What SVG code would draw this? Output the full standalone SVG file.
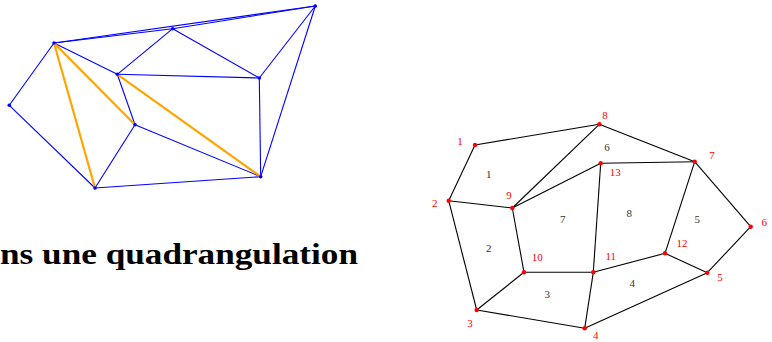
<svg xmlns="http://www.w3.org/2000/svg" width="772" height="342" viewBox="0 0 772 342">
<style>
.b{stroke:#0000ff;stroke-width:1.1;fill:none}
.o{stroke:#ffa500;stroke-width:2.2;fill:none}
.k{stroke:#000;stroke-width:1.1;fill:none}
.bd{fill:#0000ff}
.rd{fill:#ff0000}
.rl{font-family:"Liberation Serif",serif;font-size:11px;fill:#ff0000;text-anchor:middle;dominant-baseline:central}
.fl{font-family:"Liberation Serif",serif;font-size:11px;fill:#333;text-anchor:middle;dominant-baseline:central}
.t{font-family:"Liberation Serif",serif;font-weight:bold;font-size:29px;fill:#000}
</style>
<rect width="772" height="342" fill="#fff"/>
<g id="connectors">
<g id="left-edges">
<line class="b" x1="54" y1="43" x2="315.3" y2="6"/>
<line class="b" x1="54" y1="43" x2="172.7" y2="28.7"/>
<line class="b" x1="172.7" y1="28.7" x2="315.3" y2="6"/>
<line class="b" x1="54" y1="43" x2="9.3" y2="105.3"/>
<line class="b" x1="9.3" y1="105.3" x2="95" y2="188"/>
<line class="b" x1="54" y1="43" x2="117.3" y2="74.3"/>
<line class="b" x1="117.3" y1="74.3" x2="172.7" y2="28.7"/>
<line class="b" x1="172.7" y1="28.7" x2="259.3" y2="78"/>
<line class="b" x1="259.3" y1="78" x2="315.3" y2="6"/>
<line class="b" x1="117.3" y1="74.3" x2="259.3" y2="78"/>
<line class="b" x1="117.3" y1="74.3" x2="135" y2="124.7"/>
<line class="b" x1="135" y1="124.7" x2="95" y2="188"/>
<line class="b" x1="135" y1="124.7" x2="260.7" y2="176.7"/>
<line class="b" x1="260.7" y1="176.7" x2="95" y2="188"/>
<line class="b" x1="259.3" y1="78" x2="260.7" y2="176.7"/>
<line class="b" x1="315.3" y1="6" x2="260.7" y2="176.7"/>
<line class="o" x1="54" y1="43" x2="95" y2="188"/>
<line class="o" x1="54" y1="43" x2="135" y2="124.7"/>
<line class="o" x1="117.3" y1="74.3" x2="260.7" y2="176.7"/>
</g>
<g id="right-edges">
<line class="k" x1="475" y1="145" x2="599.3" y2="124.3"/>
<line class="k" x1="599.3" y1="124.3" x2="694.7" y2="161.7"/>
<line class="k" x1="694.7" y1="161.7" x2="750.7" y2="226.7"/>
<line class="k" x1="750.7" y1="226.7" x2="707.3" y2="272.7"/>
<line class="k" x1="707.3" y1="272.7" x2="584.7" y2="328.3"/>
<line class="k" x1="584.7" y1="328.3" x2="476.7" y2="310"/>
<line class="k" x1="476.7" y1="310" x2="448.7" y2="200.7"/>
<line class="k" x1="448.7" y1="200.7" x2="475" y2="145"/>
<line class="k" x1="448.7" y1="200.7" x2="512.3" y2="208"/>
<line class="k" x1="512.3" y1="208" x2="599.3" y2="124.3"/>
<line class="k" x1="512.3" y1="208" x2="600.7" y2="163.3"/>
<line class="k" x1="600.7" y1="163.3" x2="694.7" y2="161.7"/>
<line class="k" x1="512.3" y1="208" x2="524" y2="272.3"/>
<line class="k" x1="524" y1="272.3" x2="593.3" y2="272.3"/>
<line class="k" x1="593.3" y1="272.3" x2="600.7" y2="163.3"/>
<line class="k" x1="524" y1="272.3" x2="476.7" y2="310"/>
<line class="k" x1="593.3" y1="272.3" x2="584.7" y2="328.3"/>
<line class="k" x1="593.3" y1="272.3" x2="665" y2="253.3"/>
<line class="k" x1="665" y1="253.3" x2="707.3" y2="272.7"/>
<line class="k" x1="665" y1="253.3" x2="694.7" y2="161.7"/>
</g>
</g>
<g id="left-nodes">
<circle id="la" class="bd" cx="315.3" cy="6" r="1.8"/>
<circle id="lb" class="bd" cx="172.7" cy="28.7" r="1.8"/>
<circle id="lc" class="bd" cx="54" cy="43" r="1.8"/>
<circle id="ld" class="bd" cx="117.3" cy="74.3" r="1.8"/>
<circle id="le" class="bd" cx="259.3" cy="78" r="1.8"/>
<circle id="lf" class="bd" cx="9.3" cy="105.3" r="1.8"/>
<circle id="lg" class="bd" cx="135" cy="124.7" r="1.8"/>
<circle id="lh" class="bd" cx="260.7" cy="176.7" r="1.8"/>
<circle id="li" class="bd" cx="95" cy="188" r="1.8"/>
</g>
<text class="t" x="0" y="264" textLength="358" lengthAdjust="spacingAndGlyphs">ns une quadrangulation</text>
<g id="n1"><circle class="rd" cx="475" cy="145" r="2.2"/><text class="rl" x="460" y="140.7">1</text></g>
<g id="n2"><circle class="rd" cx="448.7" cy="200.7" r="2.2"/><text class="rl" x="434.7" y="203.3">2</text></g>
<g id="n3"><circle class="rd" cx="476.7" cy="310" r="2.2"/><text class="rl" x="470" y="323.3">3</text></g>
<g id="n4"><circle class="rd" cx="584.7" cy="328.3" r="2.2"/><text class="rl" x="595.7" y="335.3">4</text></g>
<g id="n5"><circle class="rd" cx="707.3" cy="272.7" r="2.2"/><text class="rl" x="720" y="276.7">5</text></g>
<g id="n6"><circle class="rd" cx="750.7" cy="226.7" r="2.2"/><text class="rl" x="764.3" y="222.3">6</text></g>
<g id="n7"><circle class="rd" cx="694.7" cy="161.7" r="2.2"/><text class="rl" x="712" y="155">7</text></g>
<g id="n8"><circle class="rd" cx="599.3" cy="124.3" r="2.2"/><text class="rl" x="605" y="114.7">8</text></g>
<g id="n9"><circle class="rd" cx="512.3" cy="208" r="2.2"/><text class="rl" x="509" y="195">9</text></g>
<g id="n10"><circle class="rd" cx="524" cy="272.3" r="2.2"/><text class="rl" x="537.3" y="256.7">10</text></g>
<g id="n11"><circle class="rd" cx="593.3" cy="272.3" r="2.2"/><text class="rl" x="610.7" y="256">11</text></g>
<g id="n12"><circle class="rd" cx="665" cy="253.3" r="2.2"/><text class="rl" x="682" y="243.3">12</text></g>
<g id="n13"><circle class="rd" cx="600.7" cy="163.3" r="2.2"/><text class="rl" x="615.3" y="171.7">13</text></g>
<g id="faces">
<text class="fl" x="488.7" y="174.3">1</text>
<text class="fl" x="488.7" y="248.3">2</text>
<text class="fl" x="547.3" y="294">3</text>
<text class="fl" x="632.3" y="283.3">4</text>
<text class="fl" x="697.3" y="219.3">5</text>
<text class="fl" x="607" y="147.3">6</text>
<text class="fl" x="562.7" y="219.3">7</text>
<text class="fl" x="629.3" y="213.3">8</text>
</g>
</svg>
